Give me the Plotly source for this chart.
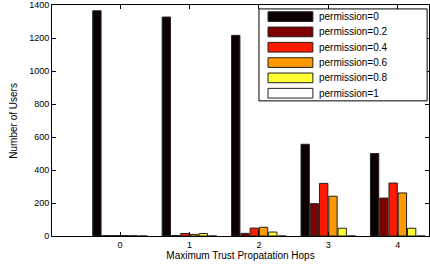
import plotly.graph_objects as go

hops = [0, 1, 2, 3, 4]
series_names = ["permission=0", "permission=0.2", "permission=0.4",
                "permission=0.6", "permission=0.8", "permission=1"]
perm_0 = [1365, 1327, 1216, 556, 500]
perm_02 = [3, 3, 16, 196, 230]
perm_04 = [3, 15, 48, 319, 321]
perm_06 = [3, 10, 53, 241, 261]
perm_08 = [2, 15, 24, 47, 47]
perm_1 = [0, 0, 0, 0, 0]
series_values = [perm_0, perm_02, perm_04, perm_06, perm_08, perm_1]
colors = ["#0d0000", "#800000", "#ff1a00", "#ff9900", "#ffff33", "#ffffff"]
y_ticks = [0, 200, 400, 600, 800, 1000, 1200, 1400]

FONT = "Liberation Sans, Arial, sans-serif"

fig = go.Figure()
for name, vals, col in zip(series_names, series_values, colors):
    fig.add_trace(go.Bar(
        x=hops, y=vals, name=name,
        marker=dict(color=col, line=dict(color="#222222", width=1)),
        showlegend=False,
    ))

# custom legend (matlab-style wide swatches)
lx0, lx1 = 0.549, 0.995
ly_top, ly_bot = 0.983, 0.585
shapes = [dict(type="rect", xref="paper", yref="paper",
               x0=lx0, x1=lx1, y0=ly_bot, y1=ly_top,
               line=dict(color="black", width=1), fillcolor="white", layer="above")]
annotations = []
n = len(series_names)
step = (ly_top - ly_bot) / n
for i, (name, col) in enumerate(zip(series_names, colors)):
    yc = ly_top - step * (i + 0.5)
    shapes.append(dict(type="rect", xref="paper", yref="paper",
                       x0=0.573, x1=0.692, y0=yc - 0.021, y1=yc + 0.021,
                       line=dict(color="#222222", width=1), fillcolor=col, layer="above"))
    annotations.append(dict(xref="paper", yref="paper", x=0.703, y=yc,
                            text=name, showarrow=False, xanchor="left", yanchor="middle",
                            font=dict(family=FONT, size=10, color="black")))

# y-axis title placed as rotated annotation
annotations.append(dict(xref="paper", yref="paper", x=-0.103, y=0.5,
                        text="Number of Users", showarrow=False, textangle=-90,
                        xanchor="center", yanchor="middle",
                        font=dict(family=FONT, size=10, color="black")))

fig.update_layout(
    width=430, height=270,
    margin=dict(l=52, r=1, t=5, b=34),
    paper_bgcolor="white", plot_bgcolor="white",
    barmode="group", bargap=0.2, bargroupgap=0.1,
    font=dict(family=FONT, size=9, color="black"),
    shapes=shapes, annotations=annotations,
    xaxis=dict(
        range=[-0.98, 4.45], tickvals=hops, ticktext=[str(h) for h in hops],
        ticks="inside", ticklen=4, tickcolor="black",
        showline=True, linecolor="black", linewidth=1, mirror="ticks",
        showgrid=False, zeroline=False, automargin=False,
        title=dict(text="Maximum Trust Propatation Hops", standoff=0,
                   font=dict(family=FONT, size=10)),
        tickfont=dict(family=FONT, size=9),
    ),
    yaxis=dict(
        range=[0, 1400], tickvals=y_ticks,
        ticks="inside", ticklen=4, tickcolor="black",
        showline=True, linecolor="black", linewidth=1, mirror="ticks",
        showgrid=False, zeroline=False, automargin=False,
        tickfont=dict(family=FONT, size=9),
    ),
)

fig.write_html("out.html", config={"displayModeBar": False},
               post_script="document.body.style.margin='0';document.body.style.overflow='hidden';")
